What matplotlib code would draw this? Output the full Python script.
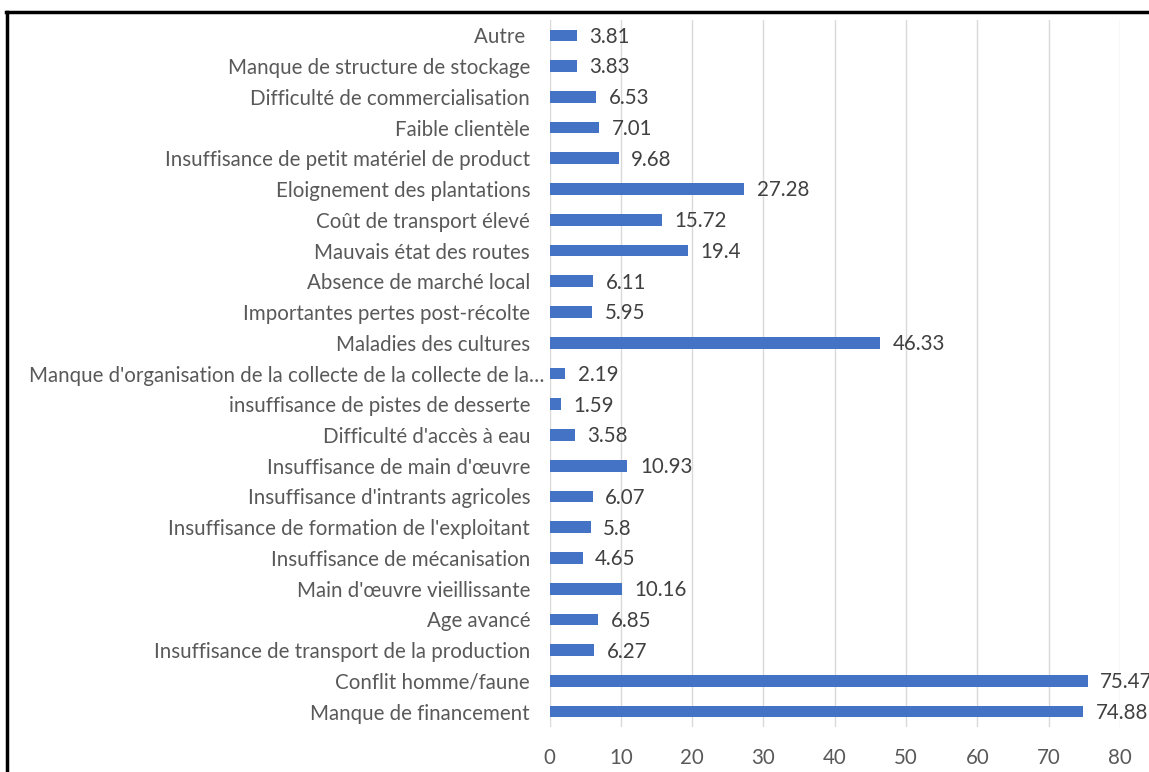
import matplotlib
matplotlib.use("Agg")
import matplotlib.pyplot as plt
from matplotlib.lines import Line2D
from matplotlib.transforms import ScaledTranslation

# categories listed bottom -> top, as they appear on the axis
categories = [
    "Manque de financement",
    "Conflit homme/faune",
    "Insuffisance de transport de la production",
    "Age avancé",
    "Main d'œuvre vieillissante",
    "Insuffisance de mécanisation",
    "Insuffisance de formation de l'exploitant",
    "Insuffisance d'intrants agricoles",
    "Insuffisance de main d'œuvre",
    "Difficulté d'accès à eau",
    "insuffisance de pistes de desserte",
    "Manque d'organisation de la collecte de la collecte de la…",
    "Maladies des cultures",
    "Importantes pertes post-récolte",
    "Absence de marché local",
    "Mauvais état des routes",
    "Coût de transport élevé",
    "Eloignement des plantations",
    "Insuffisance de petit matériel de product",
    "Faible clientèle",
    "Difficulté de commercialisation",
    "Manque de structure de stockage",
    "Autre ",
]
values = [74.88, 75.47, 6.27, 6.85, 10.16, 4.65, 5.8, 6.07, 10.93, 3.58, 1.59,
          2.19, 46.33, 5.95, 6.11, 19.4, 15.72, 27.28, 9.68, 7.01, 6.53, 3.83, 3.81]
value_labels = ["74.88", "75.47", "6.27", "6.85", "10.16", "4.65", "5.8", "6.07",
                "10.93", "3.58", "1.59", "2.19", "46.33", "5.95", "6.11", "19.4",
                "15.72", "27.28", "9.68", "7.01", "6.53", "3.83", "3.81"]
xticks = [0, 10, 20, 30, 40, 50, 60, 70, 80]

bar_color = "#4472C4"
label_color = "#595959"
value_color = "#404040"
font = ["Lato", "DejaVu Sans"]
fsize = 14.8

fig = plt.figure(figsize=(11.49, 7.72), dpi=100)
ax = fig.add_axes([549.5 / 1149, 1 - 727 / 772, (1120 - 549.5) / 1149, (727 - 20) / 772])

ypos = list(range(len(categories)))
ax.barh(ypos, values, height=0.38, color=bar_color, zorder=3)

for y, v, lab in zip(ypos, values, value_labels):
    ax.annotate(lab, (v, y), xytext=(9, -1), textcoords="offset points",
                va="center", ha="left", fontsize=fsize, color=value_color,
                family=font, annotation_clip=False)

ax.set_xlim(0, 80)
ax.set_ylim(-0.5, len(categories) - 0.5)
ax.set_xticks(xticks)
ax.set_yticks(ypos)
ax.set_yticklabels(categories)
ax.grid(axis="x", color="#D9D9D9", linewidth=1, zorder=0)
for s in ax.spines.values():
    s.set_visible(False)
ax.tick_params(axis="both", length=0, labelsize=fsize, labelcolor=label_color)
ax.tick_params(axis="y", pad=14)
ax.tick_params(axis="x", pad=15)
for t in ax.get_xticklabels() + ax.get_yticklabels():
    t.set_family(font)

# the truncated label sits a little closer to the axis, as in the original
long_lab = ax.get_yticklabels()[11]
long_lab.set_transform(long_lab.get_transform() + ScaledTranslation(0.14, 0, fig.dpi_scale_trans))

# black frame around the chart (runs off the right and bottom edges)
fig.add_artist(Line2D([7 / 1149, 7 / 1149], [0, 1 - 12 / 772],
                      transform=fig.transFigure, color="black", linewidth=2.5))
fig.add_artist(Line2D([6 / 1149, 1], [1 - 12 / 772, 1 - 12 / 772],
                      transform=fig.transFigure, color="black", linewidth=2.5))

fig.savefig("out.png", dpi=100)
